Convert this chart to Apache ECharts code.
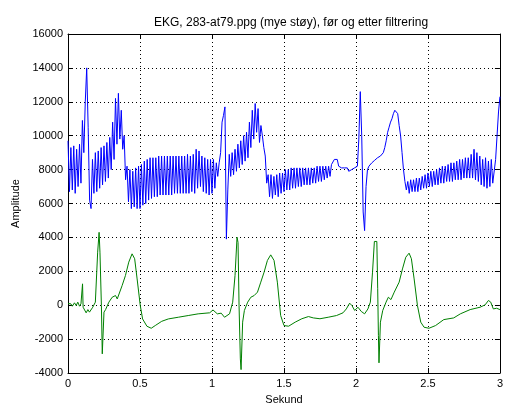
<!DOCTYPE html>
<html>
<head>
<meta charset="utf-8">
<script src="https://cdn.jsdelivr.net/npm/echarts@6/dist/echarts.min.js"></script>
<style>
  html, body { margin: 0; padding: 0; background: #fff; }
  #ekg_chart { width: 506px; height: 410px; }
</style>
</head>
<body>
<div id="ekg_chart"></div>
<script>
// ufiltrert signal, en verdi per 0.01 s (0 .. 3 s)
var rawRate = 100;
var rawValues = [
  9700, 6700, 9300, 6800, 9400, 6600, 9200, 7000, 9500, 7200,
  10900, 9000, 12000, 14000, 10500, 6200, 5700, 8600, 6600, 9000,
  6700, 9100, 6900, 9300, 7100, 9400, 7300, 9600, 7500, 9900,
  8000, 10800, 8600, 12200, 9500, 12500, 9800, 11500, 9200, 10000,
  7400, 8200, 6100, 8000, 5700, 7900, 5800, 8100, 5700, 8200,
  5700, 8300, 5900, 8500, 6000, 8600, 6200, 8700, 6300, 8700,
  6400, 8700, 6400, 8800, 6500, 8800, 6500, 8800, 6500, 8800,
  6500, 8800, 6500, 8800, 6600, 8800, 6600, 8800, 6600, 8800,
  6600, 8800, 6600, 8900, 6600, 8800, 6700, 8900, 6600, 9200,
  6900, 9100, 7000, 8800, 6700, 8700, 6600, 8600, 6500, 8600,
  6600, 8600, 6900, 8400, 7600, 8400, 9000, 10800, 11200, 11700,
  3900, 6800, 8900, 7600, 9000, 7700, 9200, 7900, 9500, 8100,
  9700, 8300, 10000, 8500, 10200, 8700, 10800, 9300, 11500, 9800,
  11900, 10200, 11600, 9600, 10600, 10000, 9300, 8800, 7200, 7700,
  6400, 7700, 6300, 7600, 6500, 7700, 6400, 7800, 6600, 7800,
  6700, 8000, 6800, 8000, 6800, 8100, 6900, 8100, 6900, 8100,
  7000, 8100, 7000, 8100, 7100, 8100, 7100, 8100, 7100, 8100,
  7200, 8100, 7200, 8200, 7300, 8200, 7300, 8200, 7400, 8200,
  7500, 8200, 7600, 8300, 8400, 8600, 8500, 8600, 8200, 8300,
  8100, 8200, 8100, 8000, 8100, 7900, 7800, 8000, 8100, 8100,
  8000, 8200, 9800, 12600, 10000, 5500, 4400, 7000, 8000, 8200,
  8300, 8400, 8500, 8550, 8650, 8700, 8750, 8800, 8850, 9000,
  9300, 9700, 10200, 10500, 10800, 11000, 11300, 11500, 11400, 11300,
  10600, 10000, 9000, 8000, 7300, 6800, 7300, 6600, 7400, 6700,
  7400, 6700, 7500, 6700, 7500, 6800, 7600, 6900, 7700, 6900,
  7800, 7000, 7900, 7000, 7900, 7100, 8000, 7100, 8100, 7200,
  8200, 7200, 8200, 7300, 8300, 7300, 8400, 7300, 8400, 7400,
  8500, 7400, 8600, 7400, 8600, 7500, 8700, 7500, 8700, 7500,
  8900, 7500, 9200, 7400, 9000, 7300, 8800, 7100, 8600, 7000,
  8700, 6900, 8500, 7000, 8600, 7200, 7100, 8600, 10000, 11400,
  12300
];

// filtrert signal (tid i sekund, amplitude)
var filtT = [
  0, 0.009, 0.02, 0.03, 0.045, 0.057, 0.068, 0.08, 0.09, 0.097,
  0.101, 0.105, 0.115, 0.126, 0.138, 0.149, 0.16, 0.172, 0.183, 0.19,
  0.206, 0.216, 0.222, 0.232, 0.238, 0.25, 0.261, 0.273, 0.284, 0.307,
  0.33, 0.342, 0.353, 0.376, 0.399, 0.422, 0.445, 0.463, 0.48, 0.502,
  0.518, 0.548, 0.578, 0.606, 0.651, 0.697, 0.766, 0.835, 0.904, 0.984,
  1.007, 1.018, 1.037, 1.064, 1.087, 1.099, 1.122, 1.144, 1.16, 1.174,
  1.181, 1.188, 1.197, 1.202, 1.213, 1.225, 1.248, 1.27, 1.293, 1.304,
  1.316, 1.339, 1.362, 1.385, 1.408, 1.431, 1.454, 1.477, 1.5, 1.532,
  1.578, 1.624, 1.67, 1.704, 1.75, 1.807, 1.865, 1.91, 1.933, 1.956,
  1.972, 1.991, 2.014, 2.037, 2.06, 2.083, 2.1, 2.115, 2.128, 2.145,
  2.151, 2.156, 2.16, 2.17, 2.186, 2.209, 2.225, 2.243, 2.266, 2.3,
  2.323, 2.346, 2.369, 2.385, 2.404, 2.427, 2.45, 2.473, 2.507, 2.553,
  2.61, 2.679, 2.725, 2.793, 2.862, 2.897, 2.92, 2.936, 2.954, 2.977,
  3.0
];
var filtV = [
  100, 20, 80, -60, 140, -20, 180, -60, 80, -20,
  1260, -120, -220, -450, -260, -410, -310, -120, -20, 180,
  3130, 4300, 3130, -20, -2870, -410, -260, -180, 180, 470,
  570, 370, 470, 1160, 1750, 2540, 3030, 2740, 1550, -20,
  -810, -1240, -1360, -1200, -950, -810, -710, -610, -510, -450,
  -280, -370, -510, -470, -710, -810, -510, 180, 1750, 4010,
  3700, -20, -3170, -3800, -1000, -310, 180, 470, 570, 470,
  770, 1360, 1950, 2640, 2970, 2640, 1360, -610, -1200, -1240,
  -1000, -800, -670, -750, -800, -710, -610, -450, -220, 120,
  -20, -310, -120, -370, -510, -220, 180, 1950, 3760, 3760,
  970, -1800, -3400, -1000, -310, 180, 470, 330, 770, 1360,
  2140, 2830, 3070, 2740, 1550, -20, -1000, -1300, -1360, -1200,
  -850, -750, -510, -260, -120, 20, 280, 180, -220, -180,
  -260
];

var rawData = rawValues.map(function(v, i) { return [i / rawRate, v]; });
var filtData = filtT.map(function(t, i) { return [t, filtV[i]]; });

var fontName = 'Liberation Sans';
var gridLine = { show: true, lineStyle: { color: '#000', type: [1, 3], width: 1 } };

function xAx(pos, labels) {
  return {
    type: 'value', position: pos, min: 0, max: 3, interval: 0.5,
    axisLine: { show: true, onZero: false, lineStyle: { color: '#000' } },
    axisTick: { show: true, inside: true, length: 5, lineStyle: { color: '#000' } },
    axisLabel: { show: labels, color: '#000', fontFamily: fontName, fontSize: 11, margin: 5 },
    splitLine: labels ? gridLine : { show: false }
  };
}
function yAx(pos, labels) {
  return {
    type: 'value', position: pos, min: -4000, max: 16000, interval: 2000,
    axisLine: { show: true, onZero: false, lineStyle: { color: '#000' } },
    axisTick: { show: true, inside: true, length: 5, lineStyle: { color: '#000' } },
    axisLabel: { show: labels, color: '#000', fontFamily: fontName, fontSize: 11, margin: 5,
      formatter: function(v) { return String(v); } },
    splitLine: labels ? gridLine : { show: false }
  };
}

var myChart = echarts.init(document.getElementById('ekg_chart'));
var xBottom = xAx('bottom', true);
xBottom.name = 'Sekund';
xBottom.nameLocation = 'middle';
xBottom.nameGap = 21;
xBottom.nameTextStyle = { color: '#000', fontFamily: fontName, fontSize: 11 };
var yLeft = yAx('left', true);
yLeft.name = 'Amplitude';
yLeft.nameLocation = 'middle';
yLeft.nameGap = 46;
yLeft.nameTextStyle = { color: '#000', fontFamily: fontName, fontSize: 11 };

var option = {
  animation: false,
  backgroundColor: '#fff',
  title: {
    text: 'EKG, 283-at79.ppg (mye støy), før og etter filtrering',
    left: 286, textAlign: 'center', top: 12,
    textStyle: { color: '#000', fontFamily: fontName, fontSize: 12, fontWeight: 'normal' }
  },
  grid: { left: 68, right: 2, top: 34, bottom: 34, containLabel: false },
  xAxis: [xBottom, xAx('top', false)],
  yAxis: [yLeft, yAx('right', false)],
  series: [{
    type: 'line', data: rawData, xAxisIndex: 0, yAxisIndex: 0,
    showSymbol: false, symbol: 'none',
    lineStyle: { color: '#0000ff', width: 1 }
  }, {
    type: 'line', data: filtData, xAxisIndex: 0, yAxisIndex: 0,
    showSymbol: false, symbol: 'none',
    lineStyle: { color: '#008000', width: 1 }
  }]
};
myChart.setOption(option);
</script>
</body>
</html>
